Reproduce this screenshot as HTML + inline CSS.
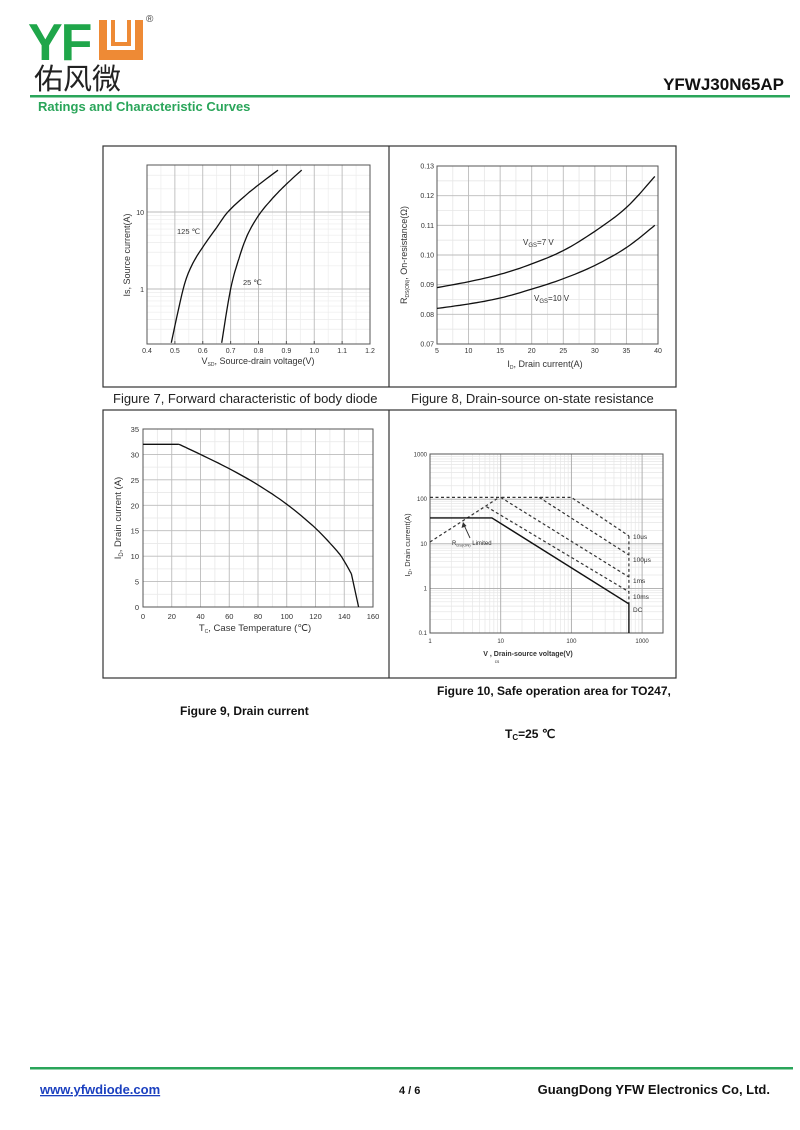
<!DOCTYPE html>
<html><head><meta charset="utf-8"><style>
body{margin:0;background:#fff;width:800px;height:1130px;overflow:hidden;font-family:"Liberation Sans",Arial,sans-serif}
svg{position:absolute;left:0;top:0}
</style></head><body>
<svg id="s" width="800" height="1130" viewBox="0 0 800 1130" xmlns="http://www.w3.org/2000/svg" font-family="Liberation Sans, Arial, sans-serif">
<text x="28" y="60" font-size="52" font-weight="bold" fill="#1fa64a" letter-spacing="-2">YF</text>
<rect x="99" y="20" width="44" height="40" fill="#ee8a35"/>
<rect x="107" y="20" width="28" height="30" fill="#fff"/>
<rect x="111" y="20" width="20" height="26" fill="#ee8a35"/>
<rect x="115" y="20" width="12" height="22" fill="#fff"/>
<text x="146" y="22" font-size="10" fill="#444">®</text>
<text x="34" y="89" font-size="29" fill="#222" font-family="Noto Sans CJK SC, sans-serif">佑风微</text>
<text x="784" y="90" font-size="17" font-weight="bold" fill="#111" text-anchor="end">YFWJ30N65AP</text>
<rect x="30" y="95" width="760" height="2.5" fill="#2aa55a"/>
<text x="38" y="111" font-size="13" font-weight="bold" fill="#2aa55a">Ratings and Characteristic Curves</text>
<g fill="none" stroke="#333" stroke-width="1.2">
<rect x="103" y="146" width="573" height="241"/>
<line x1="389" y1="146" x2="389" y2="387"/>
<rect x="103" y="410" width="573" height="268"/>
<line x1="389" y1="410" x2="389" y2="678"/>
</g>
<text x="113" y="403" font-size="13" fill="#222">Figure 7, Forward characteristic of body diode</text>
<text x="411" y="403" font-size="13" fill="#222">Figure 8, Drain-source on-state resistance</text>
<text x="437" y="695" font-size="12" font-weight="bold" fill="#111">Figure 10, Safe operation area for TO247,</text>
<text x="180" y="715" font-size="12" font-weight="bold" fill="#111">Figure 9, Drain current</text>
<text x="505" y="738" font-size="12" font-weight="bold" fill="#111">T<tspan font-size="8" dy="2">C</tspan><tspan dy="-2">=25 ℃</tspan></text>
<rect x="30" y="1067" width="763" height="2.5" fill="#2aa55a"/>
<text x="40" y="1094" font-size="13" font-weight="bold" fill="#1a3fbf" text-decoration="underline">www.yfwdiode.com</text>
<text x="399" y="1094" font-size="11" font-weight="bold" fill="#111">4 / 6</text>
<text x="770" y="1094" font-size="13" font-weight="bold" fill="#111" text-anchor="end">GuangDong YFW Electronics Co, Ltd.</text>
<g id="g"></g>
</svg>
<script>
var g=document.getElementById('g'),h='';
function L(x1,y1,x2,y2,c,w,d){h+='<line x1="'+x1+'" y1="'+y1+'" x2="'+x2+'" y2="'+y2+'" stroke="'+c+'" stroke-width="'+(w||1)+'"'+(d?' stroke-dasharray="'+d+'"':'')+'/>';}
function T(x,y,s,fs,a,extra){h+='<text x="'+x+'" y="'+y+'" font-size="'+fs+'" fill="#333" text-anchor="'+(a||'middle')+'" '+(extra||'')+'>'+s+'</text>';}
function sm(pts,n){var o=[];for(var i=0;i<pts.length-1;i++){var p0=pts[Math.max(i-1,0)],p1=pts[i],p2=pts[i+1],p3=pts[Math.min(i+2,pts.length-1)];
 for(var k=0;k<n;k++){var t=k/n,t2=t*t,t3=t2*t;o.push([0,1].map(function(j){return 0.5*((2*p1[j])+(-p0[j]+p2[j])*t+(2*p0[j]-5*p1[j]+4*p2[j]-p3[j])*t2+(-p0[j]+3*p1[j]-3*p2[j]+p3[j])*t3)}));}}
 o.push(pts[pts.length-1]);return o;}
function P(pts,fx,fy,c,w,d,smooth){var q=pts.map(function(p){return [fx(p[0]),fy(p[1])]});if(smooth)q=sm(q,8);
 h+='<polyline fill="none" stroke="'+(c||'#111')+'" stroke-width="'+(w||1.3)+'"'+(d?' stroke-dasharray="'+d+'"':'')+' points="'+q.map(function(p){return p[0].toFixed(1)+','+p[1].toFixed(1)}).join(' ')+'"/>';}
var lg=Math.log10;
(function(){var X0=147,X1=370,Y0=165,Y1=344;
var fx=function(v){return X0+(v-0.4)*278.75},fy=function(I){return 289-77*lg(I)};
for(var v=0.45;v<1.2;v+=0.1)L(fx(v),Y0,fx(v),Y1,'#ececec',0.7);
[0.3,0.4,0.5,0.6,0.7,0.8,0.9,2,3,4,5,6,7,8,9,20,30].forEach(function(a){L(X0,fy(a),X1,fy(a),'#ececec',0.7)});
for(var i=1;i<8;i++)L(fx(0.4+i*0.1),Y0,fx(0.4+i*0.1),Y1,'#bbb',0.9);
[1,10].forEach(function(a){L(X0,fy(a),X1,fy(a),'#bbb',0.9)});
h+='<rect x="'+X0+'" y="'+Y0+'" width="'+(X1-X0)+'" height="'+(Y1-Y0)+'" fill="none" stroke="#555" stroke-width="1"/>';
for(var i=0;i<=8;i++){L(fx(0.4+i*0.1),Y1,fx(0.4+i*0.1),Y1-3,'#555');T(fx(0.4+i*0.1),Y1+9,(0.4+i*0.1).toFixed(1),7);}
T(X0-3,fy(10)+3,'10',7,'end');T(X0-3,fy(1)+3,'1',7,'end');
T(258,364,'V<tspan font-size="5" dy="2">SD</tspan><tspan dy="-2">, Source-drain voltage(V)</tspan>',9);
T(130,255,'Is, Source current(A)',9,'middle','transform="rotate(-90 130 255)"');
P([[0.487,0.2],[0.53,1],[0.56,2],[0.6,3.5],[0.65,6.3],[0.69,10],[0.75,16],[0.8,22.5],[0.87,35]],fx,fy,'#111',1.3,0,1);
P([[0.668,0.2],[0.70,1],[0.73,2.5],[0.76,5],[0.8,9],[0.85,15],[0.9,23],[0.955,35]],fx,fy,'#111',1.3,0,1);
T(177,234,'125 ℃',7.5,'start');T(243,285,'25 ℃',7.5,'start');})();
(function(){var X0=437,X1=658,Y0=166,Y1=344;
var fx=function(i){return X0+(i-5)*6.314},fy=function(r){return Y0+(0.13-r)*2967};
for(var i=7.5;i<40;i+=5)L(fx(i),Y0,fx(i),Y1,'#e6e6e6',0.8);
for(var r=0.075;r<0.13;r+=0.01)L(X0,fy(r),X1,fy(r),'#e6e6e6',0.8);
for(var i=10;i<40;i+=5)L(fx(i),Y0,fx(i),Y1,'#bbb',0.9);
for(var k=1;k<6;k++)L(X0,fy(0.07+k*0.01),X1,fy(0.07+k*0.01),'#bbb',0.9);
h+='<rect x="'+X0+'" y="'+Y0+'" width="'+(X1-X0)+'" height="'+(Y1-Y0)+'" fill="none" stroke="#555"/>';
for(var i=5;i<=40;i+=5)T(fx(i),Y1+9,i,7);
for(var k=0;k<=6;k++)T(X0-3,fy(0.07+k*0.01)+2.5,(0.07+k*0.01).toFixed(2),7,'end');
T(545,367,'I<tspan font-size="5" dy="2">D</tspan><tspan dy="-2">, Drain current(A)</tspan>',9);
T(407,255,'R<tspan font-size="5" dy="2">DS(ON)</tspan><tspan dy="-2">, On-resistance(Ω)</tspan>',9,'middle','transform="rotate(-90 407 255)"');
P([[5,0.089],[10,0.091],[15,0.0935],[20,0.097],[25,0.1015],[30,0.108],[35,0.116],[39.5,0.1265]],fx,fy,'#111',1.3,0,1);
P([[5,0.082],[10,0.0835],[15,0.0855],[20,0.0885],[25,0.092],[30,0.0965],[35,0.1025],[39.5,0.110]],fx,fy,'#111',1.3,0,1);
T(523,245,'V<tspan font-size="6" dy="2">GS</tspan><tspan dy="-2">=7 V</tspan>',8,'start');
T(534,301,'V<tspan font-size="6" dy="2">GS</tspan><tspan dy="-2">=10 V</tspan>',8,'start');})();
(function(){var X0=143,X1=373,Y0=429,Y1=607;
var fx=function(t){return X0+t*230/160},fy=function(a){return Y1-a*178/35};
for(var t=10;t<160;t+=20)L(fx(t),Y0,fx(t),Y1,'#e8e8e8',0.8);
for(var a=2.5;a<35;a+=5)L(X0,fy(a),X1,fy(a),'#e8e8e8',0.8);
for(var t=20;t<160;t+=20)L(fx(t),Y0,fx(t),Y1,'#bbb',0.9);
for(var a=5;a<35;a+=5)L(X0,fy(a),X1,fy(a),'#bbb',0.9);
h+='<rect x="'+X0+'" y="'+Y0+'" width="'+(X1-X0)+'" height="'+(Y1-Y0)+'" fill="none" stroke="#555"/>';
for(var t=0;t<=160;t+=20)T(fx(t),Y1+12,t,7.5);
for(var a=0;a<=35;a+=5)T(X0-4,fy(a)+3,a,7.5,'end');
T(255,631,'T<tspan font-size="5" dy="2">C</tspan><tspan dy="-2">, Case Temperature (℃)</tspan>',9.5);
T(121,518,'I<tspan font-size="6" dy="2">D</tspan><tspan dy="-2">, Drain current (A)</tspan>',9.5,'middle','transform="rotate(-90 121 518)"');
P([[0,32],[25,32]],fx,fy,'#111',1.3);
P([[25,32],[40,30],[60,27.2],[80,24],[100,20.2],[120,15.5],[135,11],[140,9],[145,6.5]],fx,fy,'#111',1.3,0,1);
P([[145,6.5],[150,0]],fx,fy,'#111',1.3);})();
(function(){var X0=430,X1=663,Y0=454,Y1=633;
var fx=function(v){return X0+70.7*lg(v)},fy=function(a){return Y1-44.6*(lg(a)+1)};
[1,10,100,1000].forEach(function(d){for(var k=2;k<10;k++){var x=fx(d*k);if(x<X1)L(x,Y0,x,Y1,'#e6e6e6',0.7);}});
[0.1,1,10,100].forEach(function(d){for(var k=2;k<10;k++)L(X0,fy(d*k),X1,fy(d*k),'#e6e6e6',0.7);});
[10,100,1000].forEach(function(v){L(fx(v),Y0,fx(v),Y1,'#aaa',0.9)});
[1,10,100].forEach(function(a){L(X0,fy(a),X1,fy(a),'#aaa',0.9)});
h+='<rect x="'+X0+'" y="'+Y0+'" width="'+(X1-X0)+'" height="'+(Y1-Y0)+'" fill="none" stroke="#555"/>';
[1,10,100,1000].forEach(function(v){T(fx(v),Y1+10,v,6)});
[[0.1,'0.1'],[1,'1'],[10,'10'],[100,'100'],[1000,'1000']].forEach(function(p){T(X0-3,fy(p[0])+2,p[1],6,'end')});
T(528,656,'V , Drain-source voltage(V)',7,'middle','font-weight="bold" fill="#111"');
T(497,663,'cs',4.5);
T(410,545,'I<tspan font-size="5" dy="2">D</tspan><tspan dy="-2">, Drain current(A)</tspan>',7.5,'middle','transform="rotate(-90 410 545)"');
var d='3,2.5';
P([[1,11],[9.5,110]],fx,fy,'#333',1.2,d);
P([[1,110],[100,110],[650,15]],fx,fy,'#333',1.2,d);
P([[35,110],[650,5.6]],fx,fy,'#333',1.2,d);
P([[10,110],[650,1.8]],fx,fy,'#333',1.2,d);
P([[6.3,68],[650,0.84]],fx,fy,'#333',1.2,d);
P([[650,15],[650,0.45]],fx,fy,'#333',1.2,d);
P([[1,38],[7.5,38],[650,0.45],[650,0.1]],fx,fy,'#111',1.4);
T(633,539,'10us',6.5,'start');T(633,562,'100μs',6.5,'start');T(633,583,'1ms',6.5,'start');T(633,599,'10ms',6.5,'start');T(633,612,'DC',6.5,'start');
T(452,545,'R<tspan font-size="4" dy="1.5">DS(ON)</tspan><tspan dy="-1.5"> Limited</tspan>',6,'start');
L(470,538,464,525,'#333',0.9);h+='<polygon points="463,522 461.5,528 466.5,526" fill="#333"/>';})();
g.innerHTML=h;
</script>
</body></html>
